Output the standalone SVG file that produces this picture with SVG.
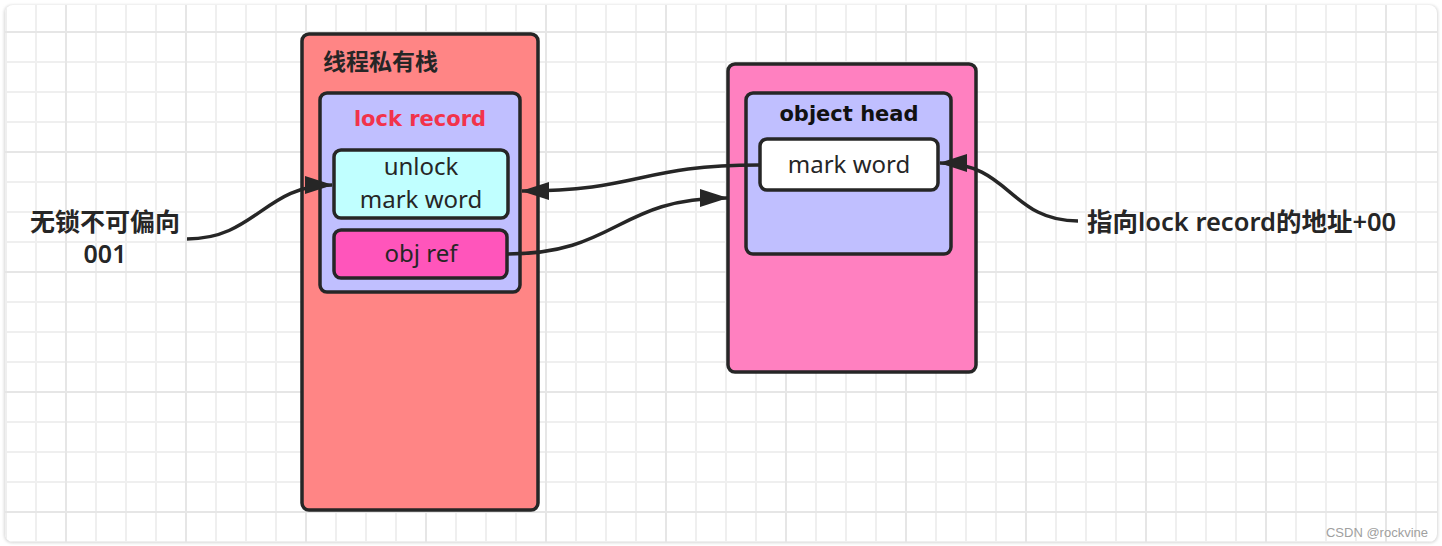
<svg xmlns="http://www.w3.org/2000/svg" width="1442" height="546" viewBox="0 0 1442 546">
  <defs>
    <pattern id="minor" patternUnits="userSpaceOnUse" x="5" y="1" width="30" height="30">
      <path d="M1,0 V30 M0,1 H30" stroke="#efefef" stroke-width="2" fill="none"/>
    </pattern>
    <pattern id="major" patternUnits="userSpaceOnUse" x="65" y="31" width="120" height="120">
      <path d="M1,0 V120 M0,1 H120" stroke="#e6e6e6" stroke-width="2" fill="none"/>
    </pattern>
    <clipPath id="frame">
      <rect x="5" y="5" width="1432" height="537" rx="8"/>
    </clipPath>
    <marker id="arrow" viewBox="0 0 28 18" refX="27" refY="9" markerWidth="28" markerHeight="18" markerUnits="userSpaceOnUse" orient="auto">
      <path d="M0,0 L28,9 L0,18 Z" fill="#262626"/>
    </marker>
    <filter id="shadow" x="-5%" y="-5%" width="110%" height="110%">
      <feGaussianBlur stdDeviation="1.5"/>
    </filter>
  </defs>
  <style>
    .box { stroke: #262626; stroke-width: 3.5; }
    .txt { font-family: "Noto Sans", "Liberation Sans", sans-serif; font-size: 24px; fill: #262626; text-anchor: middle; }
    .cjk { font-family: "Noto Sans", "Noto Sans CJK SC", sans-serif; fill: #262626; font-weight: 600; }
    .comic { font-family: "DejaVu Sans", sans-serif; font-weight: bold; font-size: 21px; text-anchor: middle; }
    .conn { fill: none; stroke: #262626; stroke-width: 3.5; }
  </style>

  <rect x="0" y="0" width="1442" height="546" fill="#ffffff"/>
  <rect x="4" y="5" width="1434" height="538" rx="8" fill="#d8d8d8" filter="url(#shadow)"/>
  <rect x="5" y="5" width="1432" height="537" rx="8" fill="#ffffff"/>
  <g clip-path="url(#frame)">
    <rect x="0" y="0" width="1442" height="546" fill="url(#minor)"/>
    <rect x="0" y="0" width="1442" height="546" fill="url(#major)"/>
  </g>

  <g id="stack">
    <rect class="box" x="302" y="34" width="236" height="476" rx="7" fill="#ff8585"/>
    <text class="cjk" x="323" y="70" font-size="23">线程私有栈</text>
  </g>

  <g id="lock-record">
    <rect class="box" x="320" y="93" width="200" height="199" rx="7" fill="#c0bfff"/>
    <text class="comic" x="420" y="126" fill="#f2334b">lock record</text>
  </g>

  <g id="unlock-mark-word">
    <rect class="box" x="334" y="150" width="174" height="68" rx="7" fill="#c0ffff"/>
    <text class="txt" x="421" y="175">unlock</text>
    <text class="txt" x="421" y="208">mark word</text>
  </g>

  <g id="obj-ref">
    <rect class="box" x="334" y="230" width="173" height="48" rx="7" fill="#ff55bb"/>
    <text class="txt" x="421" y="262">obj ref</text>
  </g>

  <g id="object">
    <rect class="box" x="728" y="64" width="248" height="308" rx="7" fill="#ff80c0"/>
  </g>

  <g id="object-head">
    <rect class="box" x="746" y="93" width="205" height="161" rx="7" fill="#c0bfff"/>
    <text class="comic" x="849" y="121" fill="#111111">object head</text>
  </g>

  <g id="mark-word">
    <rect class="box" x="760" y="139" width="178" height="51" rx="7" fill="#ffffff"/>
    <text class="txt" x="849" y="173">mark word</text>
  </g>

  <g id="label-left">
    <text class="cjk" x="105" y="231" font-size="25" text-anchor="middle">无锁不可偏向</text>
    <text class="cjk" x="105" y="263" font-size="25" text-anchor="middle">001</text>
  </g>

  <g id="label-right">
    <text class="cjk" x="1087" y="231" font-size="25.5">指向lock record的地址+00</text>
  </g>

  <g id="connectors">
    <path class="conn" d="M187,239 C255,239 265,185 332,185" marker-end="url(#arrow)"/>
    <path class="conn" d="M759,165 C640,165 640,191 522,191" marker-end="url(#arrow)"/>
    <path class="conn" d="M507,254 C617,254 617,198 727,198" marker-end="url(#arrow)"/>
    <path class="conn" d="M1078,221 C1010,221 1010,163 940,163" marker-end="url(#arrow)"/>
  </g>

  <text x="1428" y="537" font-family="Liberation Sans, Arial, sans-serif" font-size="13" fill="#a0a0a0" text-anchor="end">CSDN @rockvine</text>
</svg>
